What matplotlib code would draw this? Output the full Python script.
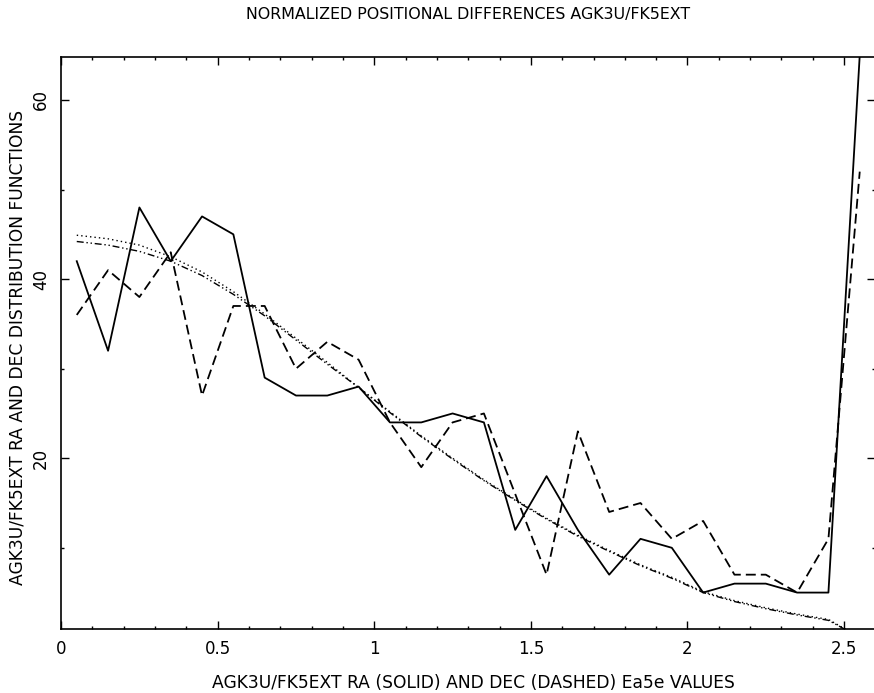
import matplotlib
matplotlib.use("Agg")
import matplotlib.pyplot as plt
from matplotlib.ticker import MultipleLocator, FixedLocator, FixedFormatter

# ---- data ----
x_bins = [0.05, 0.15, 0.25, 0.35, 0.45, 0.55, 0.65, 0.75, 0.85, 0.95,
          1.05, 1.15, 1.25, 1.35, 1.45, 1.55, 1.65, 1.75, 1.85, 1.95,
          2.05, 2.15, 2.25, 2.35, 2.45, 2.55]

ra_solid = [42, 32, 48, 42, 47, 45, 29, 27, 27, 28,
            24, 24, 25, 24, 12, 18, 12, 7, 11, 10,
            5, 6, 6, 5, 5, 65]

dec_dashed = [36, 41, 38, 43, 27, 37, 37, 30, 33, 31,
              24, 19, 24, 25, 16, 7, 23, 14, 15, 11,
              13, 7, 7, 5, 11, 52]

model_dotted = [44.9, 44.5, 43.8, 42.5, 40.8, 38.6, 36.1, 33.4, 30.7, 27.9,
                25.2, 22.5, 20.0, 17.6, 15.4, 13.3, 11.4, 9.7, 8.1, 6.7,
                5.1, 4.1, 3.3, 2.6, 2.0, 0.0]

model_dashdot = [44.2, 43.8, 43.1, 42.0, 40.4, 38.3, 35.9, 33.2, 30.5, 27.9,
                 25.1, 22.4, 19.9, 17.5, 15.3, 13.2, 11.3, 9.6, 8.0, 6.6,
                 5.0, 4.0, 3.2, 2.5, 1.9, 0.0]

x_ticks = [0, 0.5, 1, 1.5, 2, 2.5]
x_ticklabels = ["0", "0.5", "1", "1.5", "2", "2.5"]
y_ticks = [20, 40, 60]
y_ticklabels = ["20", "40", "60"]

title = "NORMALIZED POSITIONAL DIFFERENCES AGK3U/FK5EXT"
xlabel = "AGK3U/FK5EXT RA (SOLID) AND DEC (DASHED) Ea5e VALUES"
ylabel = "AGK3U/FK5EXT RA AND DEC DISTRIBUTION FUNCTIONS"

# ---- figure ----
W, H = 874, 693
fig = plt.figure(figsize=(W / 100, H / 100), dpi=100)
fig.patch.set_facecolor("white")

# axes box in pixels
left_px, right_px, top_px, bottom_px = 61.1, 875.4, 57.0, 629.3
ax = fig.add_axes([left_px / W, 1 - bottom_px / H,
                   (right_px - left_px) / W, (bottom_px - top_px) / H])
ax.set_xlim(0, 2.6)
ax.set_ylim(0.9, 64.8)

lw = 1.3
ax.plot(x_bins, model_dotted, color="black", lw=1.0,
        linestyle=(0, (1, 2.2)))
ax.plot(x_bins, model_dashdot, color="black", lw=1.0,
        linestyle=(0, (5, 2, 1, 2, 1, 2)))
ax.plot(x_bins, dec_dashed, color="black", lw=lw,
        linestyle=(0, (5.5, 2.8)))
ax.plot(x_bins, ra_solid, color="black", lw=lw, linestyle="-")

for side in ["left", "top", "bottom"]:
    ax.spines[side].set_linewidth(1.2)
ax.spines["right"].set_visible(False)

ax.xaxis.set_major_locator(FixedLocator(x_ticks))
ax.xaxis.set_major_formatter(FixedFormatter(x_ticklabels))
ax.xaxis.set_minor_locator(MultipleLocator(0.1))
ax.yaxis.set_major_locator(FixedLocator(y_ticks))
ax.yaxis.set_major_formatter(FixedFormatter(y_ticklabels))
ax.yaxis.set_minor_locator(FixedLocator([10, 30, 50]))

ax.tick_params(which="both", direction="in", top=True, right=True,
               color="black", width=1.0)
ax.tick_params(which="major", length=6)
ax.tick_params(which="minor", length=2.5)
ax.tick_params(axis="x", which="major", labelsize=12, pad=8)
ax.tick_params(axis="y", which="major", labelsize=12, pad=8,
               labelrotation=90)
for lab in ax.get_yticklabels():
    lab.set_va("center")

fig.text((left_px + 875.4) / 2 / W, 1 - 15 / H, title,
         ha="center", va="center", fontsize=11.4)
fig.text(473 / W, 1 - 683 / H, xlabel,
         ha="center", va="center", fontsize=12.3)
fig.text(18 / W, 1 - 347 / H, ylabel, rotation=90,
         ha="center", va="center", fontsize=12.3)

fig.savefig("out.png", dpi=100)
